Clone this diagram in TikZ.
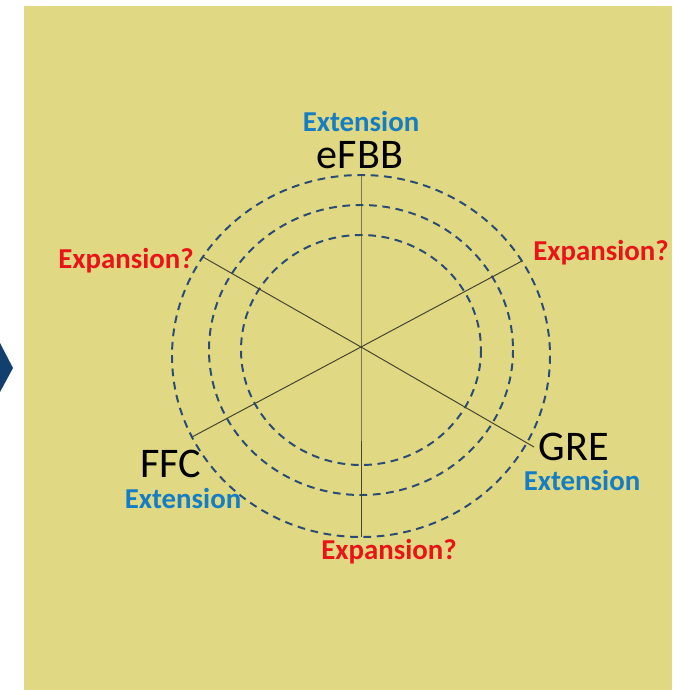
\documentclass[tikz,border=0pt]{standalone}
\usepackage{fontspec}
\setmainfont{Carlito}
\usepackage{tikz}
\usetikzlibrary{calc}

\definecolor{bgyellow}{RGB}{224,216,130}
\definecolor{ringblue}{RGB}{40,75,120}
\definecolor{extblue}{RGB}{20,125,195}
\definecolor{expred}{RGB}{232,20,24}
\definecolor{spoke}{RGB}{70,68,50}
\definecolor{chevron}{RGB}{18,62,112}

\begin{document}
\begin{tikzpicture}[x=0.025cm,y=-0.025cm,
	ring/.style={dashed, dash pattern=on 5.5pt off 4pt, line width=1.4pt, color=ringblue},
	spokeline/.style={line width=0.7pt, color=spoke},
	extlabel/.style={anchor=base, text=extblue, font=\fontsize{20.5}{24}\selectfont\bfseries},
	explabel/.style={anchor=base, text=expred, font=\fontsize{20.5}{24}\selectfont\bfseries},
	bodylabel/.style={anchor=base, text=black, font=\fontsize{30}{34}\selectfont}]

		\useasboundingbox (0,0) rectangle (672,690);
		\fill [bgyellow] (24,6) rectangle (672,690);
		\fill [chevron] (0,343) -- (13,368) -- (0,392) -- cycle;

		\coordinate (O) at (361,347);
		
		\coordinate (N) at (361,175);
		\coordinate (S) at (361,537);
		\coordinate (NW) at (203,257);
		\coordinate (SE) at (534,447);
		\coordinate (NE) at (522,261);
		\coordinate (SW) at (192,437);
		
		\draw [ring] (361,356) ellipse [x radius=189, y radius=181];
		\draw [ring] (361,350) ellipse [x radius=152, y radius=145];
		\draw [ring] (361,350) ellipse [x radius=120, y radius=115];
		
		\draw [spokeline] (N)--(O)--(S);
		\draw [spokeline] (NW)--(O)--(SE);
		\draw [spokeline] (NE)--(O)--(SW);
		
		\node [extlabel] (ext-eFBB) at (361,132) {Extension};
		\node [bodylabel] (eFBB) at (360,168) {eFBB};
		
		\node [bodylabel] (FFC) at (171,477) {FFC};
		\node [extlabel] (ext-FFC) at (183,508) {Extension};
		
		\node [bodylabel] (GRE) at (574,460) {GRE};
		\node [extlabel] (ext-GRE) at (582,490) {Extension};
		
		\node [explabel] (exp-NW) at (126,268) {Expansion?};
		\node [explabel] (exp-NE) at (601,260) {Expansion?};
		\node [explabel] (exp-S) at (389,559) {Expansion?};
		%\draw (O) node [above] {O} ;
		
\end{tikzpicture}
\end{document}
